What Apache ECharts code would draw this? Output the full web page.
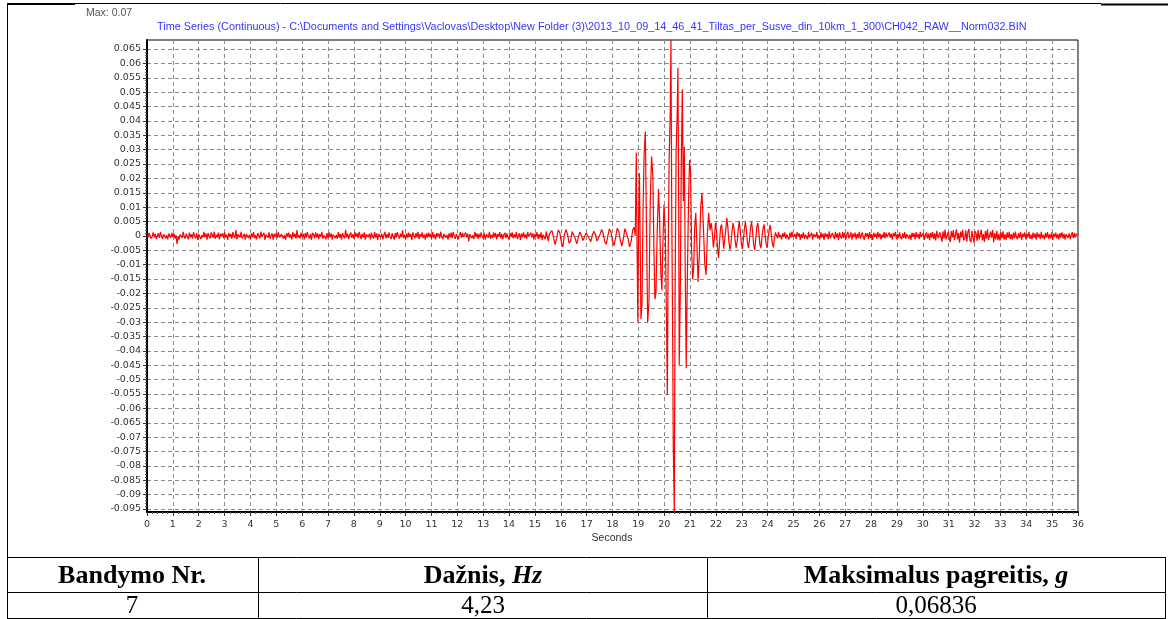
<!DOCTYPE html>
<html>
<head>
<meta charset="utf-8">
<script src="https://cdn.jsdelivr.net/npm/echarts/dist/echarts.min.js"></script>
<style>
  html, body { margin: 0; padding: 0; background: #fff; }
  #chart { width: 1168px; height: 619px; }
</style>
</head>
<body>
<div id="chart"></div>
<script>
// Acceleration record, values in units of 1e-4 g
const UNIT = 1e-4;

// Ambient vibration before the crossing, one sample every 0.04 s from 0 s (one row per second)
const quietStart = 0, quietStep = 0.04;
const quietVals = [
  3,-6,10,4,-9,-2,12,-5,7,-11,1,9,-7,13,-3,-10,6,11,-8,2,-12,8,5,-6,10,
  -4,9,-9,3,-28,-3,-13,5,9,-7,14,-2,-10,8,3,-12,11,-5,6,-9,13,-1,-8,10,-14,
  6,9,-11,2,-6,14,-4,8,-13,10,-2,-9,12,5,-7,15,-10,3,-5,11,-12,7,-1,9,-8,
  12,-6,4,-14,10,-3,7,-10,13,1,-8,20,-12,5,9,-5,14,-9,-2,8,-13,6,10,-7,3,
  -11,9,-4,13,-8,2,-12,10,6,-9,15,-3,-7,11,-14,4,8,-6,12,-10,1,9,-13,7,-2,
  10,-8,14,-5,-11,6,12,-9,3,-13,9,-1,11,-7,5,-12,13,-4,8,-10,20,-6,2,-9,11,
  -3,8,-12,10,-6,13,-2,-9,7,-14,11,4,-8,12,-5,9,-11,6,-3,14,-10,2,8,-12,10,
  -7,12,-4,9,-13,5,11,-8,3,-10,13,-6,7,-12,10,-2,-9,21,-5,8,-11,4,12,-7,6,
  -10,13,-3,9,-8,14,2,-11,7,-6,12,-13,5,10,-4,8,-12,11,-2,-9,13,-6,9,-14,6,
  11,-5,8,-12,3,14,-9,6,-7,12,-3,-11,9,5,-13,10,-6,13,-1,-10,8,-4,19,-8,4,
  -12,9,-6,11,-3,7,-14,12,1,-9,10,-5,14,-11,6,-2,12,-8,4,-13,9,-6,11,-3,8,
  -10,13,-7,5,-12,10,-1,8,-9,15,-4,-11,7,12,-6,3,-13,9,-5,11,-8,14,-2,-10,6,
  9,-12,4,13,-7,10,-3,-9,12,-5,8,-19,6,11,-8,2,-11,14,-4,9,-10,7,-6,12,-2,
  -9,11,-13,5,8,-6,14,-10,3,-7,12,-4,10,-12,6,-1,13,-9,7,-11,4,11,-8,9,-5,
  -13,10,-3,12,-9,6,-6,13,-11,2,9,-14,8,-4,12,-7,5,-10,14,-2,-8,11,-5,9,-12,
  7,-3,13,-10,6,-8,12,-15,4,10,-12,16,-6,-18,8
];

// Approach of the load, one sample every 0.06 s from 15.6 s
const preStart = 15.6, preStep = 0.06;
const preVals = [
  5,18,-6,-30,-8,20,12,-22,-38,4,22,6,-25,-18,15,18,-10,-28,-4,14,
  8,-16,-12,10,13,-9,-20,2,16,5,-18,-24,6,22,9,-20,-30,0,24,14,
  -18,-34,-6,26,18,-14,-36,-10,25,28,-8,-38,-20,20,30
];

// Main response peaks and troughs (time in s)
const burstTimes = [
  18.88,18.92,18.95,18.98,19.01,19.04,19.07,19.10,19.14,19.18,
  19.22,19.27,19.31,19.36,19.41,19.46,19.51,19.56,19.60,19.64,
  19.68,19.73,19.78,19.82,19.87,19.91,19.95,19.99,20.04,20.09,
  20.12,20.15,20.19,20.23,20.26,20.29,20.33,20.35,20.39,20.42,
  20.46,20.50,20.53,20.56,20.58,20.62,20.66,20.70,20.74,20.78,
  20.81,20.85,20.89,20.94,20.98,21.02,21.06,21.10,21.14,21.18,
  21.22,21.26,21.31,21.36,21.41,21.46,21.51,21.57,21.62,21.67,
  21.72,21.77
];
const burstVals = [
  0,290,-40,-298,60,218,-20,-290,-240,80,
  280,363,50,-300,-230,120,276,210,-40,-220,
  -200,20,163,60,-130,-190,-20,108,20,-300,
  -553,-100,264,420,683.6,100,-400,-730,-960,-200,
  290,420,585,100,-450,-210,250,510,120,310,
  -100,-460,-176,120,264,220,-50,-150,-110,30,
  80,-20,-160,-60,100,150,40,-100,-136,10,
  80,20
];

// Free vibration after the load leaves, one sample every 0.04 s from 21.82 s
const decayStart = 21.82, decayStep = 0.04;
const decayVals = [
  45,10,-40,-10,45,20,-40,-77,-20,30,40,0,-45,-40,20,63,30,-20,-48,-30,
  15,45,25,-15,-42,-20,20,52,20,-25,-45,-15,25,50,15,-25,-42,-10,30,50,
  10,-30,-50,-10,30,45,10,-30,-42,-5,25,40,5,-28,-42,-5,22,38,5,-25,
  -40,-10,12
];

// Residual vibration, one sample every 0.04 s from 24.34 s (one row per second)
const tailStart = 24.34, tailStep = 0.04;
const tailVals = [
  10,-8,14,-5,3,-12,9,-3,12,-10,5,8,-13,11,-6,15,-4,-9,7,-11,13,-2,9,-14,6,
  -7,12,-10,4,9,-12,14,-5,-8,11,-13,6,10,-4,13,-9,2,-11,12,-6,8,-14,10,-3,7,
  -12,16,-8,-14,10,5,-11,14,-6,9,-15,12,-3,-10,13,-7,11,-12,4,15,-9,-5,12,-13,8,
  -4,11,-12,7,-8,14,-10,3,12,-6,-13,10,-2,9,-11,13,-7,6,-14,11,-3,8,-10,14,-5,
  9,-12,5,-7,13,-9,11,-4,-10,12,-6,8,-13,10,-2,14,-11,6,-8,12,-5,-12,9,-7,13,
  -10,6,12,-9,4,-14,11,-3,9,-12,13,-6,7,-11,14,-4,-8,10,-13,5,12,-9,8,-15,11,
  -6,13,-11,9,-16,18,-8,-14,12,6,-20,16,-10,22,-12,-18,14,8,-22,17,-6,20,-15,-9,23,
  -12,10,-24,15,-5,21,-16,-8,19,-20,12,24,-14,-22,18,-6,-25,16,9,-18,20,-12,-8,22,-16,
  6,-21,17,-10,23,-14,-18,15,-6,20,-22,10,-12,18,-15,7,-17,13,-9,16,-13,5,-14,12,-8,
  14,-11,6,-13,11,-9,15,-4,-12,10,-7,13,-14,8,-3,12,-11,9,-6,14,-10,4,-12,11,-7,
  9,-13,12,-5,7,-11,14,-8,3,-12,10,-6,13,-10,5,-9,12,-14,8,-3,11,-9,6,-12,10,
  -5,12,-10,8,-13,6,11,-7,9,-12,4,13,-8,10,-6,7,2
];

// Axis ticks
const xMin = 0, xMax = 36, xInterval = 1;
const yTickMin = -0.095, yTickMax = 0.065, yTickInterval = 0.005;
const yPlotMin = -0.09604, yPlotMax = 0.06813;

// Texts
const maxText = 'Max: 0.07';
const titleText = 'Time Series (Continuous) - C:\\Documents and Settings\\Vaclovas\\Desktop\\New Folder (3)\\2013_10_09_14_46_41_Tiltas_per_Susve_din_10km_1_300\\CH042_RAW__Norm032.BIN';
const xAxisName = 'Seconds';
const tableHeader = [
  '{b|Bandymo Nr.}',
  '{b|Dažnis, }{bi|Hz}',
  '{b|Maksimalus pagreitis, }{bi|g}'
];
const tableRow = ['7', '4,23', '0,06836'];

function sampled(start, step, vals) {
  return vals.map((v, i) => [start + i * step, v * UNIT]);
}
const signal = [].concat(
  sampled(quietStart, quietStep, quietVals),
  sampled(preStart, preStep, preVals),
  burstTimes.map((t, i) => [t, burstVals[i] * UNIT]),
  sampled(decayStart, decayStep, decayVals),
  sampled(tailStart, tailStep, tailVals)
);

const axisFont = { fontFamily: 'DejaVu Sans', fontSize: 9.5, color: '#333' };
const gridDash = { color: '#8a8a8a', type: [4, 3], width: 1 };

// Word-table frame and cells
const colX = [7.5, 258.5, 707.5, 1165.5];
const rowY = [557.5, 592.5, 618.5];
const frame = [];
function hline(x1, x2, y, w) {
  frame.push({ type: 'line', silent: true, shape: { x1, y1: y, x2, y2: y }, style: { stroke: '#000', lineWidth: w || 1 } });
}
function vline(x, y1, y2, w) {
  frame.push({ type: 'line', silent: true, shape: { x1: x, y1, x2: x, y2 }, style: { stroke: '#000', lineWidth: w || 1 } });
}
hline(7, 1101, 3.5, 1);
hline(7, 75, 4, 2);
hline(1101, 1168, 4.5, 2);
vline(7.5, 3, 619, 1);
rowY.forEach(y => hline(7, 1166, y, 1));
colX.forEach(x => vline(x, rowY[0], 619, 1));

const serif = '"Liberation Serif", "Times New Roman", serif';
const cellCenters = [132, 483, 936];
const tableTexts = [];
tableHeader.forEach((t, i) => tableTexts.push({
  type: 'text', silent: true, x: cellCenters[i], y: 576,
  style: {
    text: t, textAlign: 'center', textVerticalAlign: 'middle', fill: '#000',
    rich: {
      b: { font: 'bold 26px ' + serif, fill: '#000' },
      bi: { font: 'italic bold 26px ' + serif, fill: '#000' }
    }
  }
}));
tableRow.forEach((t, i) => tableTexts.push({
  type: 'text', silent: true, x: cellCenters[i], y: 606,
  style: { text: t, textAlign: 'center', textVerticalAlign: 'middle', fill: '#000', font: '25px ' + serif }
}));

const chart = echarts.init(document.getElementById('chart'), null, { renderer: 'canvas' });
chart.setOption({
  animation: false,
  backgroundColor: '#fff',
  grid: [
    { left: 147, right: 90, top: 40, height: 472, show: true, borderColor: '#000', borderWidth: 1, backgroundColor: 'transparent' },
    { left: 147, right: 90, top: 49, height: 460 }
  ],
  xAxis: [
    {
      gridIndex: 0, type: 'value', min: xMin, max: xMax, interval: xInterval,
      axisLine: { show: true, onZero: false, lineStyle: { color: '#000', width: 2 } },
      axisTick: { show: true, length: 4, lineStyle: { color: '#333' } },
      minorTick: { show: true, splitNumber: 5, length: 2, lineStyle: { color: '#555' } },
      axisLabel: Object.assign({ margin: 8 }, axisFont),
      splitLine: { show: true, lineStyle: gridDash }
    },
    { gridIndex: 1, type: 'value', min: xMin, max: xMax, show: false }
  ],
  yAxis: [
    {
      gridIndex: 0, type: 'value', min: yPlotMin, max: yPlotMax,
      axisLine: { show: true, onZero: false, lineStyle: { color: '#000', width: 2 } },
      axisTick: { show: false }, axisLabel: { show: false }, splitLine: { show: false }
    },
    {
      gridIndex: 1, type: 'value', min: yTickMin, max: yTickMax, interval: yTickInterval,
      axisLine: { show: false },
      axisTick: { show: true, length: 4, lineStyle: { color: '#333' } },
      minorTick: { show: true, splitNumber: 5, length: 2, lineStyle: { color: '#555' } },
      axisLabel: Object.assign({
        margin: 6,
        formatter: v => String(Math.round(v * 1000) / 1000)
      }, axisFont),
      splitLine: { show: true, lineStyle: gridDash }
    }
  ],
  series: [{
    type: 'line', xAxisIndex: 0, yAxisIndex: 0, data: signal,
    symbol: 'none', showSymbol: false, clip: true,
    lineStyle: { color: '#ff0000', width: 1.2 }, itemStyle: { color: '#ff0000' }
  }],
  graphic: [
    { type: 'text', silent: true, x: 86, y: 13, style: { text: maxText, font: '10.5px "Liberation Sans", Arial, sans-serif', fill: '#555', textVerticalAlign: 'middle' } },
    { type: 'text', silent: true, x: 157, y: 27, style: { text: titleText, font: '10.85px "Liberation Sans", Arial, sans-serif', fill: '#3535ff', textVerticalAlign: 'middle' } },
    { type: 'text', silent: true, x: 612, y: 538, style: { text: xAxisName, font: '10.5px "Liberation Sans", Arial, sans-serif', fill: '#333', textAlign: 'center', textVerticalAlign: 'middle' } }
  ].concat(frame, tableTexts)
});
</script>
</body>
</html>
